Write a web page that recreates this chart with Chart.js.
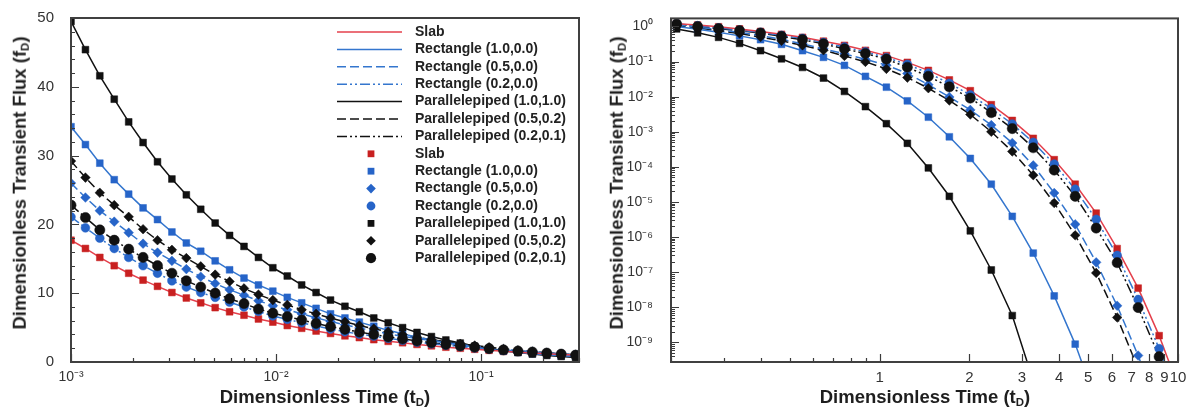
<!DOCTYPE html>
<html>
<head>
<meta charset="utf-8">
<script src="https://cdn.jsdelivr.net/npm/chart.js@4.4.1/dist/chart.umd.min.js"></script>
<style>
  body { margin: 0; background: #fff; width: 1192px; height: 412px; overflow: hidden; position: relative;
         font-family: "Liberation Sans", Arial, Helvetica, sans-serif; }
  canvas { position: absolute; top: 0; }
  #cLeft { left: 0; }
  #cRight { left: 596px; }
  .title { position: absolute; font-weight: bold; font-size: 18.5px; line-height: 1; color: #1e1e1e; white-space: nowrap; }
  .xtitle { transform: translate(-50%, -50%); }
  .ytitle { transform: translate(-50%, -50%) rotate(-90deg); }
  .title sub { font-size: 0.62em; vertical-align: -0.3em; line-height: 0; }
</style>
</head>
<body>
<canvas id="cLeft" width="596" height="412"></canvas>
<canvas id="cRight" width="596" height="412"></canvas>
<div class="title xtitle" style="left:325px; top:397px;">Dimensionless Time (t<sub>D</sub>)</div>
<div class="title xtitle" style="left:925px; top:397px;">Dimensionless Time (t<sub>D</sub>)</div>
<div class="title ytitle" style="left:20px; top:183px;">Dimensionless Transient Flux (f<sub>D</sub>)</div>
<div class="title ytitle" style="left:617px; top:183px;">Dimensionless Transient Flux (f<sub>D</sub>)</div>
<script>
// ---- data: short time (left) ----
const tLeft = [0.001, 0.001176, 0.001382, 0.001625, 0.001911, 0.002246, 0.002641, 0.003105, 0.003651,
  0.004292, 0.005047, 0.005934, 0.006977, 0.008203, 0.009643, 0.01134, 0.01333, 0.01567, 0.01843,
  0.02167, 0.02547, 0.02995, 0.03521, 0.0414, 0.04867, 0.05723, 0.06728, 0.0791, 0.09299, 0.1093,
  0.1285, 0.1511, 0.1777, 0.2089, 0.2456, 0.2887];

const slabL   = [17.7, 16.5, 15.2, 14.0, 12.9, 11.9, 11.0, 10.1, 9.3, 8.6, 7.9, 7.3, 6.8, 6.25, 5.8, 5.3, 4.9, 4.5,
  4.15, 3.8, 3.55, 3.25, 3.0, 2.8, 2.55, 2.35, 2.15, 2.0, 1.85, 1.7, 1.55, 1.42, 1.3, 1.2, 1.1, 1.0];
const rect10L = [34.2, 31.6, 28.9, 26.5, 24.4, 22.4, 20.7, 18.9, 17.3, 16.1, 14.7, 13.4, 12.2, 11.2, 10.3, 9.4, 8.6, 7.8,
  7.0, 6.4, 5.8, 5.2, 4.6, 4.1, 3.6, 3.2, 2.8, 2.45, 2.15, 1.85, 1.6, 1.4, 1.2, 1.05, 0.9, 0.8];
const rect05L = [26.0, 23.9, 22.0, 20.4, 18.8, 17.2, 15.9, 14.7, 13.5, 12.4, 11.4, 10.5, 9.7, 8.9, 8.2, 7.6, 7.0, 6.4,
  5.9, 5.4, 4.95, 4.5, 4.1, 3.75, 3.4, 3.1, 2.8, 2.55, 2.3, 2.05, 1.85, 1.65, 1.5, 1.3, 1.15, 1.0];
const rect02L = [21.1, 19.5, 18.0, 16.5, 15.2, 14.0, 12.9, 11.8, 10.9, 10.1, 9.4, 8.7, 8.0, 7.35, 6.7, 6.2, 5.7, 5.25,
  4.8, 4.4, 4.05, 3.75, 3.45, 3.15, 2.9, 2.65, 2.45, 2.25, 2.05, 1.9, 1.72, 1.57, 1.42, 1.3, 1.17, 1.05];
const par11L  = [49.5, 45.4, 41.6, 38.2, 34.9, 31.9, 29.1, 26.6, 24.3, 22.2, 20.2, 18.4, 16.8, 15.2, 13.7, 12.5, 11.2, 10.1,
  9.0, 8.1, 7.3, 6.4, 5.7, 5.0, 4.3, 3.7, 3.2, 2.75, 2.3, 1.95, 1.65, 1.38, 1.15, 0.95, 0.8, 0.65];
const par052L = [29.2, 26.8, 24.6, 22.8, 21.1, 19.3, 17.7, 16.3, 15.1, 13.9, 12.7, 11.7, 10.7, 9.8, 9.0, 8.3, 7.6, 7.0,
  6.4, 5.85, 5.3, 4.85, 4.4, 4.0, 3.6, 3.25, 2.95, 2.65, 2.4, 2.15, 1.9, 1.7, 1.5, 1.33, 1.18, 1.05];
const par021L = [22.8, 21.0, 19.2, 17.7, 16.4, 15.2, 14.0, 12.9, 11.8, 10.9, 10.0, 9.2, 8.5, 7.7, 7.1, 6.6, 6.1, 5.6,
  5.15, 4.75, 4.35, 4.0, 3.65, 3.35, 3.05, 2.8, 2.55, 2.35, 2.15, 1.95, 1.75, 1.6, 1.45, 1.3, 1.15, 1.0];

// ---- data: long time (right) ----
const tRight = [0.2089, 0.2456, 0.2887, 0.3395, 0.3991, 0.4692, 0.5517, 0.6486, 0.7625, 0.8965, 1.054, 1.239,
  1.457, 1.713, 2.014, 2.368, 2.784, 3.273, 3.848, 4.524, 5.319, 6.254, 7.353, 8.645, 10.16];

const slabR   = [1.2, 1.1, 0.98, 0.85, 0.72, 0.60, 0.49, 0.38, 0.29, 0.21, 0.148, 0.095, 0.056, 0.030, 0.0148,
  5.9e-3, 2.1e-3, 6.5e-4, 1.6e-4, 3.2e-5, 4.8e-6, 4.7e-7, 3.5e-8, 1.55e-9, 4e-11];
const rect10R = [1.0, 0.83, 0.68, 0.54, 0.42, 0.31, 0.204, 0.132, 0.078, 0.038, 0.0186, 7.6e-3, 2.6e-3, 7.2e-4,
  1.74e-4, 3.2e-5, 3.9e-6, 3.5e-7, 2.1e-8, 8.9e-10, 2e-11];
const rect05R = [1.12, 0.95, 0.81, 0.68, 0.55, 0.43, 0.32, 0.23, 0.166, 0.117, 0.079, 0.046, 0.022, 9.8e-3,
  4.2e-3, 1.55e-3, 4.8e-4, 1.1e-4, 1.8e-5, 2.3e-6, 1.9e-7, 1.1e-8, 4.2e-10, 1e-11];
const rect02R = [1.2, 1.05, 0.91, 0.79, 0.68, 0.56, 0.46, 0.35, 0.26, 0.19, 0.13, 0.083, 0.047, 0.024, 0.0112,
  4.6e-3, 1.66e-3, 5.0e-4, 1.2e-4, 2.3e-5, 3.2e-6, 3.0e-7, 1.66e-8, 6.6e-10, 2e-11];
const par11R  = [0.85, 0.66, 0.49, 0.33, 0.204, 0.12, 0.068, 0.034, 0.0141, 5.2e-3, 1.7e-3, 4.7e-4, 9.3e-5,
  1.45e-5, 1.5e-6, 1.15e-7, 5.8e-9, 8e-11];
const par052R = [1.07, 0.91, 0.76, 0.63, 0.50, 0.39, 0.29, 0.21, 0.145, 0.098, 0.062, 0.035, 0.0174, 7.8e-3,
  3.1e-3, 1.0e-3, 2.75e-4, 5.8e-5, 9.3e-6, 1.12e-6, 9.5e-8, 5.1e-9, 1.8e-10, 3e-12];
const par021R = [1.17, 1.0, 0.87, 0.76, 0.65, 0.52, 0.42, 0.32, 0.23, 0.17, 0.117, 0.069, 0.038, 0.019, 9.1e-3,
  3.5e-3, 1.23e-3, 3.5e-4, 8.1e-5, 1.45e-5, 1.8e-6, 1.86e-7, 9.8e-9, 3.9e-10, 1e-11];

const names = ['Slab', 'Rectangle (1.0,0.0)', 'Rectangle (0.5,0.0)', 'Rectangle (0.2,0.0)',
  'Parallelepiped (1.0,1.0)', 'Parallelepiped (0.5,0.2)', 'Parallelepiped (0.2,0.1)'];

// tick labels
const leftXTicks = [0.001, 0.01, 0.1];
const leftYTicks = [0, 10, 20, 30, 40, 50];
const rightXTicks = [1, 2, 3, 4, 5, 6, 7, 8, 9, 10];
const rightYTicks = [1, 1e-1, 1e-2, 1e-3, 1e-4, 1e-5, 1e-6, 1e-7, 1e-8, 1e-9];

// ---- styles ----
const RED_L = 'rgb(228,64,76)', RED_M = 'rgb(200,32,32)';
const BLUE_L = 'rgb(52,118,206)', BLUE_M = 'rgb(38,100,200)';
const BLK = '#111';
const lineColors = [RED_L, BLUE_L, BLUE_L, BLUE_L, BLK, BLK, BLK];
const markColors = [RED_M, BLUE_M, BLUE_M, BLUE_M, BLK, BLK, BLK];
const dashes = [[], [], [9, 4], [10, 3, 2, 3, 2, 3], [], [9, 4], [10, 3, 2, 3, 2, 3]];
const pStyles = ['rect', 'rect', 'rectRot', 'circle', 'rect', 'rectRot', 'circle'];
const pRadius = [4.8, 4.8, 4.8, 4.4, 4.8, 4.8, 5.1];

const FONT = '"Liberation Sans", Arial, Helvetica, sans-serif';
const SUP = { '0': '⁰', '1': '¹', '2': '²', '3': '³', '4': '⁴', '5': '⁵', '6': '⁶', '7': '⁷', '8': '⁸', '9': '⁹', '-': '⁻' };
function powLabel(v) {
  const e = Math.round(Math.log10(v));
  return '10' + String(e).split('').map(c => SUP[c]).join('');
}

function buildSets(t, series) {
  const sets = [];
  series.forEach((vals, i) => {
    const pts = vals.map((v, k) => ({ x: t[k], y: v }));
    sets.push({
      data: pts, showLine: true, borderColor: lineColors[i], borderWidth: 1.5, borderDash: dashes[i],
      pointRadius: 0, pointHoverRadius: 0, tension: 0, order: 20
    });
    sets.push({
      data: pts, showLine: false, pointStyle: pStyles[i], pointRadius: pRadius[i], pointHoverRadius: pRadius[i],
      backgroundColor: markColors[i], borderColor: markColors[i], pointBorderWidth: 0.5, order: 10 - i
    });
  });
  return sets;
}

// inward tick marks + frame
const frameTicks = {
  id: 'frameTicks',
  afterDatasetsDraw(chart) {
    const { ctx, chartArea: a } = chart;
    const xs = chart.scales.x, ys = chart.scales.y;
    ctx.save();
    ctx.strokeStyle = '#3a3a3a';
    ctx.lineWidth = 1.2;
    const marks = (s) => {
      const out = [];
      if (s.type === 'logarithmic') {
        const e0 = Math.floor(Math.log10(s.min)), e1 = Math.ceil(Math.log10(s.max));
        for (let e = e0; e <= e1; e++) {
          for (let m = 1; m <= 9; m++) {
            const v = m * Math.pow(10, e);
            if (v >= s.min * 0.999 && v <= s.max * 1.001) out.push({ v, major: false });
          }
        }
      } else {
        for (let v = s.min; v <= s.max + 1e-9; v += 2) out.push({ v, major: false });
      }
      s.ticks.forEach(t => out.push({ v: t.value, major: true }));
      return out;
    };
    ctx.beginPath();
    marks(xs).forEach(m => {
      const px = Math.round(xs.getPixelForValue(m.v)) + 0.5;
      const len = m.major ? 8 : 4;
      ctx.moveTo(px, a.bottom); ctx.lineTo(px, a.bottom - len);
    });
    marks(ys).forEach(m => {
      const py = Math.round(ys.getPixelForValue(m.v)) + 0.5;
      const len = m.major ? 8 : 4;
      ctx.moveTo(a.left, py); ctx.lineTo(a.left + len, py);
    });
    ctx.stroke();
    ctx.lineWidth = 2;
    ctx.strokeStyle = '#404040';
    ctx.strokeRect(a.left, a.top, a.right - a.left, a.bottom - a.top);
    ctx.restore();
  }
};

function drawMark(ctx, style, x, y, r, color) {
  ctx.fillStyle = color;
  ctx.beginPath();
  if (style === 'rect') {
    const s = r * Math.SQRT1_2;
    ctx.rect(x - s, y - s, 2 * s, 2 * s);
  } else if (style === 'rectRot') {
    ctx.moveTo(x, y - r); ctx.lineTo(x + r, y); ctx.lineTo(x, y + r); ctx.lineTo(x - r, y); ctx.closePath();
  } else {
    ctx.arc(x, y, r, 0, Math.PI * 2);
  }
  ctx.fill();
}

// legend inside the left plot
const legendBox = {
  id: 'legendBox',
  afterDraw(chart) {
    const ctx = chart.ctx;
    const x0 = 337, x1 = 402, xt = 415, y0 = 32, dy = 17.4;
    ctx.save();
    ctx.font = 'bold 14px ' + FONT;
    ctx.textBaseline = 'middle';
    names.forEach((name, i) => {
      const y = y0 + i * dy;
      ctx.strokeStyle = lineColors[i];
      ctx.lineWidth = 1.5;
      ctx.setLineDash(dashes[i]);
      ctx.beginPath(); ctx.moveTo(x0, y); ctx.lineTo(x1, y); ctx.stroke();
      ctx.setLineDash([]);
      ctx.fillStyle = '#222';
      ctx.fillText(name, xt, y);
      const ym = y0 + (i + 7) * dy;
      drawMark(ctx, pStyles[i], 371, ym, pRadius[i], markColors[i]);
      ctx.fillStyle = '#222';
      ctx.fillText(name, xt, ym);
    });
    ctx.restore();
  }
};

function makeChart(id, sets, xOpt, yOpt, pad, yWidth, plugins) {
  return new Chart(document.getElementById(id), {
    type: 'scatter',
    data: { datasets: sets },
    options: {
      responsive: false, animation: false, devicePixelRatio: 1,
      layout: { padding: pad },
      plugins: { legend: { display: false }, tooltip: { enabled: false } },
      scales: {
        x: Object.assign({
          grid: { display: false }, border: { display: false },
          afterFit: s => { s.height = 50; }
        }, xOpt),
        y: Object.assign({
          grid: { display: false }, border: { display: false },
          afterFit: s => { s.width = yWidth; }
        }, yOpt)
      }
    },
    plugins: plugins
  });
}

const tickFont = { family: FONT, size: 15 };
const tickFontSm = { family: FONT, size: 14 };

makeChart('cLeft',
  buildSets(tLeft, [slabL, rect10L, rect05L, rect02L, par11L, par052L, par021L]),
  {
    type: 'logarithmic', min: 0.001, max: 0.3,
    afterBuildTicks: s => { s.ticks = leftXTicks.map(v => ({ value: v })); },
    ticks: { autoSkip: false, maxRotation: 0, padding: -1, color: '#333', font: tickFontSm, callback: v => powLabel(v) }
  },
  {
    type: 'linear', min: 0, max: 50,
    afterBuildTicks: s => { s.ticks = leftYTicks.map(v => ({ value: v })); },
    ticks: { autoSkip: false, padding: 9, color: '#333', font: tickFont, callback: v => String(v) }
  },
  { left: 0, top: 15, right: 17, bottom: 0 }, 71, [frameTicks, legendBox]);

makeChart('cRight',
  buildSets(tRight, [slabR, rect10R, rect05R, rect02R, par11R, par052R, par021R]),
  {
    type: 'logarithmic', min: 0.2, max: 10,
    afterBuildTicks: s => { s.ticks = rightXTicks.map(v => ({ value: v })); },
    ticks: { autoSkip: false, maxRotation: 0, padding: -1, color: '#333', font: tickFont, callback: v => String(v) }
  },
  {
    type: 'logarithmic', min: 2.75e-10, max: 1.7,
    afterBuildTicks: s => { s.ticks = rightYTicks.map(v => ({ value: v })); },
    ticks: { autoSkip: false, padding: 10, color: '#333', font: tickFontSm, callback: v => powLabel(v) }
  },
  { left: 0, top: 15, right: 14, bottom: 0 }, 75, [frameTicks]);
</script>
</body>
</html>
